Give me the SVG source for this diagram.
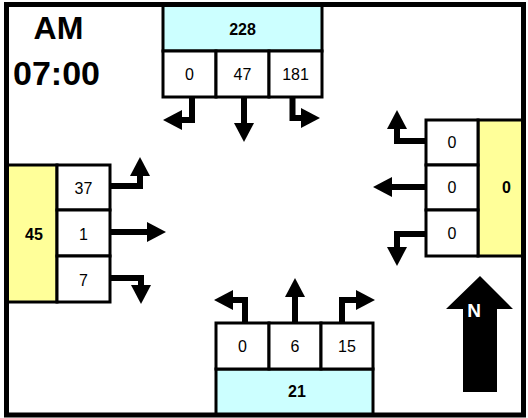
<svg xmlns="http://www.w3.org/2000/svg" width="528" height="418" viewBox="0 0 528 418">
<style>
.c{fill:#fff;stroke:#000;stroke-width:3}
.cy{fill:#CCFFFF;stroke:#000;stroke-width:3}
.ye{fill:#FFFF99;stroke:#000;stroke-width:3}
.t{font-family:"Liberation Sans",Arial,sans-serif;font-size:16px;text-anchor:middle;fill:#000}
.b{font-weight:bold}
.a{fill:none;stroke:#000;stroke-width:6;stroke-linejoin:miter;marker-end:url(#h)}
.big{font-family:"Liberation Sans",Arial,sans-serif;font-weight:bold;fill:#000}
</style>
<defs>
<marker id="h" markerUnits="userSpaceOnUse" markerWidth="20" markerHeight="20" refX="0" refY="10" orient="auto" viewBox="0 0 19 20">
<path d="M0,0 L19,10 L0,20 z" fill="#000"/>
</marker>
</defs>
<rect x="0" y="0" width="528" height="418" fill="#fff"/>
<text class="big" x="58.5" y="39" font-size="32" text-anchor="middle">AM</text>
<text class="big" x="13" y="85" font-size="34">07:00</text>

<g id="north">
<rect class="cy" x="163" y="4.5" width="159" height="46.5"/>
<rect class="c" x="163" y="51" width="53" height="46"/>
<rect class="c" x="216" y="51" width="53" height="46"/>
<rect class="c" x="269" y="51" width="53" height="46"/>
<text class="t b" x="242.5" y="35">228</text>
<text class="t" x="189.5" y="80">0</text>
<text class="t" x="242.5" y="80">47</text>
<text class="t" x="295.5" y="80">181</text>
</g>

<g id="east">
<rect class="ye" x="478" y="120" width="45.5" height="136"/>
<rect class="c" x="426" y="120" width="52" height="45"/>
<rect class="c" x="426" y="165" width="52" height="45"/>
<rect class="c" x="426" y="210" width="52" height="46"/>
<text class="t" x="452" y="148">0</text>
<text class="t" x="452" y="193">0</text>
<text class="t" x="452" y="239">0</text>
<text class="t b" x="506.5" y="193">0</text>
</g>

<g id="west">
<rect class="ye" x="6.5" y="165" width="50.5" height="137"/>
<rect class="c" x="57" y="165" width="53" height="45"/>
<rect class="c" x="57" y="210" width="53" height="46"/>
<rect class="c" x="57" y="256" width="53" height="46"/>
<text class="t" x="83.5" y="194">37</text>
<text class="t" x="83.5" y="240">1</text>
<text class="t" x="83.5" y="286">7</text>
<text class="t b" x="34" y="240">45</text>
</g>

<g id="south">
<rect class="cy" x="216" y="369" width="157" height="46"/>
<rect class="c" x="216" y="323" width="53" height="46"/>
<rect class="c" x="269" y="323" width="52" height="46"/>
<rect class="c" x="321" y="323" width="52" height="46"/>
<text class="t" x="242.5" y="352">0</text>
<text class="t" x="295" y="352">6</text>
<text class="t" x="347" y="352">15</text>
<text class="t b" x="297" y="397">21</text>
</g>

<g id="connectors">
<path class="a" d="M192,98 V120 H182"/>
<path class="a" d="M244,98 V123"/>
<path class="a" d="M292.5,98 V118 H301"/>
<path class="a" d="M426,141 H397 V129"/>
<path class="a" d="M426,187 H392"/>
<path class="a" d="M426,234 H397 V247"/>
<path class="a" d="M110,186 H140 V176"/>
<path class="a" d="M110,232 H147"/>
<path class="a" d="M110,278 H141 V285"/>
<path class="a" d="M245,323 V300 H233"/>
<path class="a" d="M295,323 V297"/>
<path class="a" d="M342,323 V300 H356"/>
</g>

<g id="compass">
<polygon points="480,276 446,309 463,309 463,392 497,392 497,309 513,309" fill="#000"/>
<text x="474" y="317" font-family="Liberation Sans,Arial,sans-serif" font-weight="bold" font-size="19" fill="#fff" text-anchor="middle">N</text>
</g>

<rect x="6.5" y="4.5" width="517" height="410.5" fill="none" stroke="#000" stroke-width="5"/>
</svg>
